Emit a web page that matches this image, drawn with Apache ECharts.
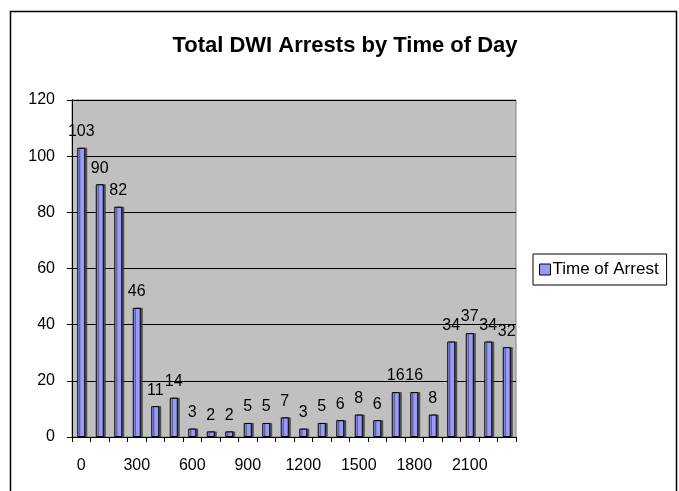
<!DOCTYPE html>
<html>
<head>
<meta charset="utf-8">
<script src="https://cdn.jsdelivr.net/npm/echarts@6/dist/echarts.min.js"></script>
<style>html,body{margin:0;padding:0;background:#fff}#c{width:679px;height:491px}</style>
</head>
<body>
<div id="c"></div>
<script>
const categories = ['0','100','200','300','400','500','600','700','800','900','1000','1100','1200','1300','1400','1500','1600','1700','1800','1900','2000','2100','2200','2300'];
const arrests = [103, 90, 82, 46, 11, 14, 3, 2, 2, 5, 5, 7, 3, 5, 6, 8, 6, 16, 16, 8, 34, 37, 34, 32];
const yTicks = [0, 20, 40, 60, 80, 100, 120];
const seriesName = 'Time of Arrest';
const titleText = 'Total DWI Arrests by Time of Day';

const FF = 'Liberation Sans, Arial, sans-serif';
const chart = echarts.init(document.getElementById('c'), null, {renderer: 'canvas'});
chart.setOption({
  animation: false,
  backgroundColor: '#fff',
  textStyle: {fontFamily: FF},
  title: {
    text: titleText, left: 340, top: 30, textAlign: 'center',
    textStyle: {fontSize: 22, fontWeight: 'bold', color: '#000', fontFamily: FF}
  },
  graphic: [
    {type: 'rect', shape: {x: 10.5, y: 11.5, width: 666, height: 490}, style: {fill: null, stroke: '#000', lineWidth: 1.5}, silent: true, z: -10}
  ],
  legend: {
    left: 533, top: 254, orient: 'vertical',
    borderColor: '#000', borderWidth: 1, padding: [7, 8, 7, 6],
    itemWidth: 11, itemHeight: 11, itemGap: 0,
    textStyle: {fontSize: 17, color: '#000', fontFamily: FF, padding: [0, 0, 0, -3]},
    data: [{name: seriesName, icon: 'rect', itemStyle: {borderColor: '#000', borderWidth: 1}}]
  },
  grid: {left: 72, right: 163, top: 100, bottom: 54, show: true, backgroundColor: '#c0c0c0', borderColor: '#808080', borderWidth: 1},
  xAxis: {
    type: 'category', data: categories, boundaryGap: true,
    axisLine: {lineStyle: {color: '#000', width: 1}},
    axisTick: {show: true, interval: 0, length: 5, lineStyle: {color: '#000'}},
    axisLabel: {interval: 2, fontSize: 16, color: '#000', margin: 21, fontFamily: FF},
    splitLine: {show: false}
  },
  yAxis: {
    type: 'value', min: yTicks[0], max: yTicks[yTicks.length - 1], interval: 20,
    axisLine: {show: true, lineStyle: {color: '#000'}},
    axisTick: {show: true, length: 5, inside: false, lineStyle: {color: '#000'}},
    axisLabel: {fontSize: 16, color: '#000', margin: 17, fontFamily: FF},
    splitLine: {show: true, lineStyle: {color: '#000', width: 1}}
  },
  series: [{
    name: seriesName, type: 'bar', data: arrests, barWidth: 8,
    itemStyle: {color: '#9999ff', borderColor: '#000', borderWidth: 1, shadowColor: 'rgba(60,60,60,0.8)', shadowOffsetX: 2, shadowOffsetY: 0, shadowBlur: 0},
    label: {show: true, position: 'top', distance: 8, fontSize: 16, color: '#000', fontFamily: FF}
  }]
});
</script>
</body>
</html>
